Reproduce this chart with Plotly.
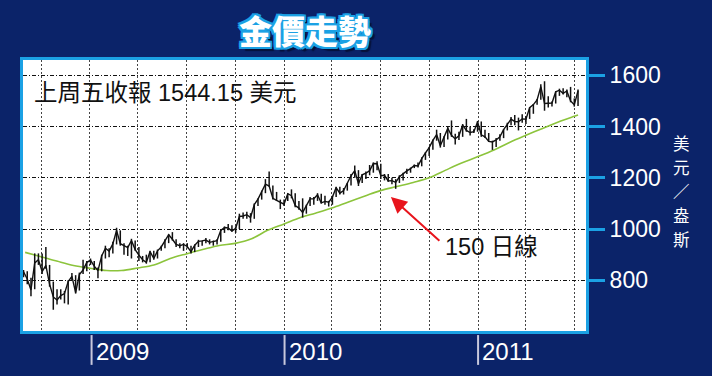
import pandas as pd
import plotly.graph_objects as go

# ---- data (weekly, Friday) ----
week_start = "2008-08-29"
high = [840, 835, 810, 905, 905, 905, 930, 860, 795, 765, 765, 758, 800, 828, 820, 830, 880, 875,
        885, 875, 850, 900, 935, 925, 950, 1005, 995, 945, 935, 962, 955, 930, 895, 900, 915, 915,
        920, 935, 960, 980, 988, 960, 945, 945, 945, 935, 940, 958, 955, 965, 960, 955, 960, 1000,
        1010, 1020, 1015, 1010, 1060, 1065, 1068, 1062, 1100, 1120, 1150, 1195, 1225, 1170, 1145, 1115,
        1115, 1140, 1155, 1140, 1110, 1120, 1095, 1125, 1125, 1140, 1138, 1130, 1110, 1130, 1165, 1165,
        1160, 1180, 1215, 1248, 1230, 1215, 1225, 1250, 1260, 1265, 1255, 1215, 1215, 1200, 1195, 1210,
        1220, 1235, 1240, 1252, 1260, 1280, 1300, 1320, 1350, 1388, 1375, 1362, 1398, 1424, 1372, 1380,
        1410, 1430, 1400, 1390, 1422, 1420, 1388, 1375, 1345, 1355, 1370, 1390, 1415, 1437, 1445, 1435,
        1448, 1440, 1476, 1488, 1508, 1565, 1577, 1518, 1498, 1538, 1548, 1550, 1545, 1555, 1510, 1545]
low = [812, 785, 738, 765, 860, 825, 845, 775, 685, 705, 725, 710, 705, 800, 748, 760, 825, 835,
       860, 840, 808, 835, 885, 890, 905, 940, 935, 900, 895, 885, 915, 875, 870, 865, 870, 880,
       885, 915, 925, 945, 955, 930, 925, 915, 925, 905, 910, 930, 935, 945, 940, 935, 940, 950,
       985, 995, 990, 985, 1000, 1040, 1040, 1025, 1040, 1090, 1115, 1140, 1165, 1115, 1110, 1078,
       1090, 1110, 1120, 1085, 1075, 1045, 1060, 1090, 1095, 1110, 1100, 1095, 1088, 1095, 1125, 1135,
       1135, 1150, 1170, 1200, 1168, 1180, 1195, 1210, 1220, 1230, 1195, 1190, 1185, 1175, 1157, 1180,
       1190, 1215, 1220, 1238, 1240, 1245, 1270, 1285, 1310, 1345, 1318, 1320, 1350, 1360, 1330, 1348,
       1360, 1380, 1365, 1375, 1380, 1360, 1355, 1340, 1309, 1320, 1345, 1355, 1385, 1405, 1405, 1385,
       1415, 1410, 1430, 1450, 1485, 1505, 1462, 1475, 1478, 1490, 1520, 1525, 1515, 1495, 1478, 1480]
close = [833, 805, 762, 868, 880, 834, 858, 785, 735, 723, 740, 748, 795, 815, 752, 822, 840, 870,
         878, 855, 838, 895, 925, 914, 942, 995, 943, 935, 928, 955, 920, 898, 880, 870, 912, 885,
         915, 930, 957, 978, 960, 940, 935, 940, 932, 912, 937, 952, 954, 957, 948, 952, 955, 995,
         1006, 1004, 992, 1003, 1049, 1051, 1056, 1045, 1095, 1117, 1145, 1175, 1168, 1120, 1112, 1105,
         1097, 1138, 1130, 1092, 1082, 1065, 1092, 1118, 1118, 1134, 1102, 1108, 1105, 1125, 1162, 1140,
         1150, 1178, 1208, 1228, 1177, 1212, 1218, 1228, 1256, 1255, 1208, 1210, 1188, 1189, 1182, 1204,
         1216, 1227, 1236, 1248, 1246, 1275, 1297, 1318, 1346, 1369, 1325, 1358, 1393, 1366, 1352, 1364,
         1406, 1385, 1377, 1380, 1418, 1368, 1360, 1342, 1340, 1348, 1360, 1388, 1409, 1429, 1420, 1419,
         1430, 1429, 1474, 1486, 1504, 1556, 1490, 1492, 1492, 1536, 1542, 1530, 1539, 1500, 1485, 1540]
dates = pd.date_range(week_start, periods=len(close), freq="7D")

# 150-day moving average
ma_dates = list(pd.date_range("2008-09-01", "2011-07-01", freq="MS")) + [pd.Timestamp("2011-07-08")]
ma_values = [909, 892, 874, 858, 847, 838, 838, 848, 860, 885, 903, 920, 936, 944, 962, 995,
             1020, 1045, 1062, 1082, 1105, 1128, 1150, 1166, 1182, 1200, 1230, 1258,
             1283, 1310, 1338, 1366, 1392, 1418, 1440, 1445]

y_ticks = [800, 1000, 1200, 1400, 1600]
quarter_grid = list(pd.date_range("2008-10-01", "2011-07-01", freq="QS"))
year_marks = ["2009-01-04", "2010-01-02", "2011-01-01"]
year_labels = ["2009", "2010", "2011"]

title_text = "金價走勢"
note_text = "上周五收報 1544.15 美元"
ma_label = "150 日線"
y_title_chars = ["美", "元", "／", "盎", "斯"]

NAVY = "#0b2369"
CYAN = "#1ba1e4"
FONT = "Liberation Sans, Arial, Noto Sans CJK TC, sans-serif"

# ---- figure ----
seg_x, seg_y = [], []
for d, h, l in zip(dates, high, low):
    seg_x += [d, d, None]
    seg_y += [l, h, None]

fig = go.Figure()
fig.add_trace(go.Scatter(x=ma_dates, y=ma_values, mode="lines",
                         line=dict(color="#8cc43c", width=1.6, shape="spline"), hoverinfo="skip"))
fig.add_trace(go.Scatter(x=seg_x, y=seg_y, mode="lines", line=dict(color="#111111", width=1.5), hoverinfo="skip"))
fig.add_trace(go.Scatter(x=dates, y=close, mode="lines", line=dict(color="#111111", width=1.4)))

shapes = []
annotations = []
for d, lab in zip(year_marks, year_labels):
    shapes.append(dict(type="line", xref="x", yref="paper", x0=d, x1=d, y0=-0.015, y1=-0.125,
                       line=dict(color="#c8c8dc", width=2)))
    annotations.append(dict(x=d, y=-0.077, xref="x", yref="paper", text=lab, showarrow=False,
                            xanchor="left", yanchor="middle", xshift=2,
                            font=dict(family=FONT, size=24, color="white")))

annotations.append(dict(x=0.501, y=1.111, xref="paper", yref="paper", text=title_text, showarrow=False,
                        xanchor="center", yanchor="middle",
                        font=dict(family="Noto Sans CJK TC", size=33, color="white", weight=900,
                                  shadow=("2px 0 0 %s, -2px 0 0 %s, 0 2px 0 %s, 0 -2px 0 %s, "
                                          "2px 2px 0 %s, -2px -2px 0 %s, 2px -2px 0 %s, -2px 2px 0 %s, "
                                          "4px 4px 1px #06123a") % ((CYAN,) * 8))))
annotations.append(dict(x=0.016, y=0.878, xref="paper", yref="paper", text=note_text, showarrow=False,
                        xanchor="left", yanchor="middle", font=dict(family=FONT, size=23.5, color="#111111")))
annotations.append(dict(x=0.832, y=0.31, xref="paper", yref="paper", text=ma_label, showarrow=False,
                        xanchor="center", yanchor="middle", font=dict(family=FONT, size=23.5, color="#111111")))
annotations.append(dict(x="2010-07-21", y=1125, xref="x", yref="y", text="", showarrow=True,
                        ax=50, ay=45, axref="pixel", ayref="pixel",
                        arrowhead=2, arrowsize=1.6, arrowwidth=2, arrowcolor="#e8141c"))
# vertical axis title, one character per line
for k, ch in enumerate(y_title_chars):
    py = 143 + 24 * k
    annotations.append(dict(x=1.169, y=(331 - py) / 271, xref="paper", yref="paper", text=ch,
                            showarrow=False, xanchor="center", yanchor="middle",
                            font=dict(family="Noto Sans CJK TC", size=16.5, color="white")))

fig.update_layout(
    width=712, height=376,
    margin=dict(l=23, r=126, t=60, b=45),
    paper_bgcolor=NAVY, plot_bgcolor="white",
    showlegend=False,
    shapes=shapes, annotations=annotations,
    xaxis=dict(type="date", range=["2008-08-28", "2011-07-23"], tickvals=quarter_grid,
               showticklabels=False, ticks="", showgrid=True, gridcolor="#444444", gridwidth=1,
               griddash="2px,2px", showline=True, linecolor=CYAN, linewidth=3, mirror=True, zeroline=False),
    yaxis=dict(range=[602, 1660], side="right", tickvals=y_ticks, ticktext=[str(v) for v in y_ticks],
               ticks="outside", ticklen=16, tickwidth=3, tickcolor=CYAN,
               tickfont=dict(family=FONT, size=23, color="white"),
               showgrid=True, gridcolor="#111111", gridwidth=1, griddash="4px,2px,1px,2px",
               showline=True, linecolor=CYAN, linewidth=3, mirror=True, zeroline=False),
)

fig.write_html("out.html", config={"displayModeBar": False},
               post_script="document.body.style.margin='0px';")
